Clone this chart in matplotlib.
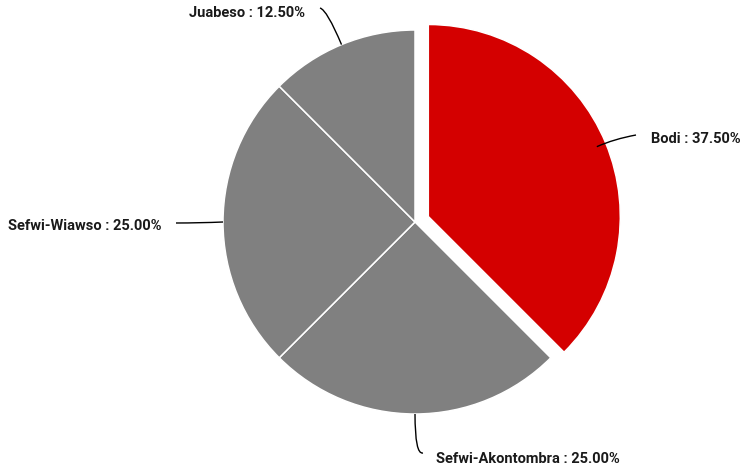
import numpy as np
import matplotlib
matplotlib.use("Agg")
import matplotlib.pyplot as plt
from matplotlib.path import Path
from matplotlib.patches import PathPatch

# data
districts = ["Bodi", "Sefwi-Akontombra", "Sefwi-Wiawso", "Juabeso"]
shares = [37.5, 25.0, 25.0, 12.5]
colors = ["#d40000", "#808080", "#808080", "#808080"]
explode = [0.075, 0, 0, 0]

plt.rcParams["font.family"] = ["Roboto", "DejaVu Sans"]

W, H = 741, 473
cx, cy, R = 415, 222, 192  # pie centre / radius in pixels

fig = plt.figure(figsize=(W / 100, H / 100), dpi=100)
ax = fig.add_axes([(cx - R) / W, (H - cy - R) / H, 2 * R / W, 2 * R / H])

wedges, _ = ax.pie(shares, colors=colors, explode=explode, startangle=90,
                   counterclock=False, radius=1,
                   wedgeprops=dict(edgecolor="white", linewidth=1.1))
# pie() sets its own limits, so fix them afterwards
ax.set_xlim(-1, 1)
ax.set_ylim(-1, 1)
ax.axis("off")


def px(x, y):
    """pixel position in the reference -> data coords"""
    return ((x - cx) / R, (cy - y) / R)


def leader(p0, ctrl, p1):
    path = Path([p0, ctrl, p1], [Path.MOVETO, Path.CURVE3, Path.CURVE3])
    ax.add_patch(PathPatch(path, fc="none", ec="black", lw=1.0, clip_on=False))


# label layout: (start radius, control point, line end, text pos, alignment)
layout = {
    "Bodi": (0.95, px(614, 139), px(636, 135), px(651, 139), "left"),
    "Sefwi-Akontombra": (1.0, px(415, 455), px(423, 453), px(436, 459), "left"),
    "Sefwi-Wiawso": (1.0, px(200, 223), px(176, 223), px(162, 226), "right"),
    "Juabeso": (1.0, px(327, 10), px(320, 8), px(305, 13), "right"),
}

for w, name, val in zip(wedges, districts, shares):
    ang = np.deg2rad((w.theta1 + w.theta2) / 2)
    x0, y0 = w.center
    r0, ctrl, p1, tpos, ha = layout[name]
    p0 = (x0 + r0 * np.cos(ang), y0 + r0 * np.sin(ang))
    leader(p0, ctrl, p1)
    ax.text(tpos[0], tpos[1], f"{name} : {val:.2f}%", ha=ha, va="center",
            fontsize=10.5, fontweight="bold", color="#1a1a1a", clip_on=False)

fig.savefig("out.png", dpi=100)
